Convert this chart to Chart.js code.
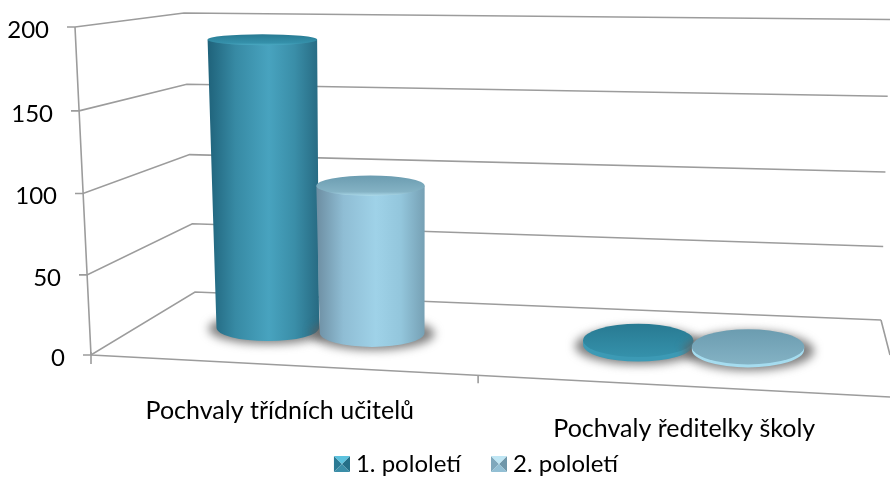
<!DOCTYPE html>
<html><head><meta charset="utf-8">
<style>html,body{margin:0;padding:0;background:#fff}#w{width:890px;height:478px}</style>
<script src="https://cdn.jsdelivr.net/npm/chart.js@4"></script></head>
<body><div id="w"><canvas id="c"></canvas></div>
<script>
const categories = ['Pochvaly třídních učitelů', 'Pochvaly ředitelky školy'];
const seriesNames = ['1. pololetí', '2. pololetí'];
const firstHalf = [192, 3];
const secondHalf = [98, 2];
const yMin = 0, yMax = 200, yStep = 50;

const LINE = '#9c9c9c';
const FONT = {family: 'Lato', size: 24};
const XFONT = {family: 'Lato', size: 25};
const skins = [
  {side:['#1f627a','#378aa4','#48a3bf','#3a8ea8','#276a82'], top:['#287a92','#3591ab','#4cabc4'], rim:'#3c9ab5', swatch:['#5cc2de','#2a7a94','#256f88','#3b8ea8']},
  {side:['#6d8ea2','#8fbdd4','#9fd2e8','#93c6dc','#76a0b4'], top:['#6b9cb0','#84b2c4','#acdaea'], rim:'#a5dcef', swatch:['#bfe6f4','#7fa8bc','#7097aa','#92bfd4']}
];

// the receding floor and walls, relative to the library's scales
const frontY = x => 355 + (x - 91) * 0.0525;
const backY  = x => 292 + (x - 91) * 0.035;
const persp  = v => v - 0.03 * v * (1 - v);
const frac   = s => v => (v - s.min) / (s.max - s.min);

function swatch(c){
  const k = document.createElement('canvas'); k.width = 24; k.height = 16;
  const g = k.getContext('2d');
  g.translate(8, 0);
  const tri = (col, a, b, d) => {g.fillStyle = col; g.beginPath(); g.moveTo(...a); g.lineTo(...b); g.lineTo(...d); g.closePath(); g.fill();};
  tri(c[1],[0,0],[8,8],[0,16]); tri(c[2],[16,0],[8,8],[16,16]); tri(c[3],[0,16],[8,8],[16,16]); tri(c[0],[0,0],[16,0],[8,8]);
  return k;
}

function rimRy(X, y){ return 5.5 + (y - 40) * 0.027 + (X - 268) * 0.008; }

function drawColumn(ctx, el, skin){
  const X = 0.934 * el.x + 48.2 + 0.00006 * ((el.x - 491) * (el.x - 491) - 40000);
  const Yb = frontY(el.x) * 0.44 + backY(el.x) * 0.56 + 2;
  const w = el.width * (0.895 + (el.x - 233) * 0.000163);
  const h = (el.base - el.y) * 0.915;
  const lean = 0.019 - (X - 266) * 0.000075;
  const Xt = X - lean * h, wt = w + 0.024 * h, Yt = Yb - h;
  const ryB = rimRy(X, Yb), ryT = rimRy(Xt, Yt);
  // soft floor shadow
  ctx.save();
  ctx.filter = 'blur(5px)';
  ctx.fillStyle = 'rgba(95,95,95,0.8)';
  ctx.beginPath(); ctx.ellipse(X + 1, Yb + 1, w / 2 + 9, ryB + 2, 0, 0, Math.PI * 2); ctx.fill();
  ctx.restore();
  // body
  const left = Math.min(X - w / 2, Xt - wt / 2), right = Math.max(X + w / 2, Xt + wt / 2);
  let g = ctx.createLinearGradient(left, 0, right, 0);
  if (h > 20) {
    [0, .25, .55, .78, 1].forEach((p, i) => g.addColorStop(p, skin.side[i]));
  } else { g = skin.rim; }
  ctx.fillStyle = g;
  ctx.beginPath();
  ctx.moveTo(Xt - wt / 2, Yt);
  ctx.lineTo(X - w / 2, Yb);
  ctx.ellipse(X, Yb, w / 2, ryB, 0, Math.PI, 0, true);
  ctx.lineTo(Xt + wt / 2, Yt);
  ctx.closePath(); ctx.fill();
  // cap
  const t = ctx.createLinearGradient(0, Yt - ryT, 0, Yt + ryT);
  t.addColorStop(0, skin.top[0]);
  if (h > 20) { t.addColorStop(0.8, skin.top[1]); t.addColorStop(1, skin.top[2]); }
  else { t.addColorStop(1, skin.top[1]); }
  ctx.fillStyle = t;
  ctx.beginPath(); ctx.ellipse(Xt, Yt, wt / 2, ryT, 0, 0, Math.PI * 2); ctx.fill();
}

const stage = {
  id: 'stage',
  afterLayout(chart){
    chart.legend.left += 30; chart.legend.right += 30; chart.legend.top -= 17;
  },
  beforeDatasetsDraw(chart){
    const {ctx, scales:{x, y}} = chart;
    const vOf = frac(y);
    ctx.save();
    ctx.strokeStyle = LINE; ctx.lineWidth = 1.6; ctx.lineJoin = 'miter';
    y.ticks.forEach(t => {
      const v = persp(vOf(t.value));
      const fy = y.getPixelForValue(yMin) - (y.getPixelForValue(yMin) - y.getPixelForValue(yMax)) * v;
      const fx = x.left - 16 * vOf(t.value);
      ctx.beginPath();
      ctx.moveTo(fx - 8, fy);
      ctx.lineTo(fx, fy);
      ctx.lineTo(195 - 11 * v, 292 - 279 * v);
      ctx.lineTo(881 + 9 * v, 320 - 300.5 * v);
      ctx.stroke();
    });
    ctx.beginPath();
    ctx.moveTo(x.left - 16, y.top); ctx.lineTo(x.left, y.bottom);
    ctx.moveTo(x.left, y.bottom); ctx.lineTo(890, frontY(890));
    ctx.moveTo(881, 320); ctx.lineTo(890, 355);
    ctx.stroke();
    // category boundary ticks on the front edge
    const W = (x.right - x.left) / categories.length;
    ctx.beginPath();
    ctx.moveTo(x.left, y.bottom - 3); ctx.lineTo(x.left, y.bottom + 9);
    const bx = x.left + W * 0.969, by = frontY(bx);
    ctx.moveTo(bx, by); ctx.lineTo(bx, by + 8);
    ctx.stroke();
    ctx.restore();
  },
  beforeDatasetDraw(){ return false; },
  afterDatasetsDraw(chart){
    chart.data.datasets.forEach((d, i) => {
      chart.getDatasetMeta(i).data.forEach(el => drawColumn(chart.ctx, el, skins[i]));
    });
  },
  beforeDraw(chart){
    const {x, y} = chart.scales;
    const vOf = frac(y);
    y.getLabelItems().forEach((it, i) => {
      const u = vOf(y.ticks[i].value);
      const py = y.getPixelForValue(yMin) - (y.getPixelForValue(yMin) - y.getPixelForValue(yMax)) * persp(u);
      it.options.translation = [x.left - 16 * u - 26, py + 3];
      it.options.textAlign = 'right';
    });
    x.getLabelItems().forEach((it, i) => {
      const px = x.getPixelForTick(i);
      it.options.translation = [px * 1.0125 - 14.6, 396 + (px - 291) * 0.045];
      it.options.textAlign = 'center';
    });
  }
};

new Chart(document.getElementById('c'), {
  type: 'bar',
  data: {
    labels: categories,
    datasets: [
      {label: seriesNames[0], data: firstHalf, backgroundColor: '#378aa4', categoryPercentage: 0.574, barPercentage: 1},
      {label: seriesNames[1], data: secondHalf, backgroundColor: '#8fbdd4', categoryPercentage: 0.574, barPercentage: 1}
    ]
  },
  options: {
    responsive: true, maintainAspectRatio: false, animation: false,
    layout: {padding: {top: 27, left: 0, right: 0, bottom: 0}},
    plugins: {
      tooltip: {enabled: false},
      legend: {
        position: 'bottom', maxHeight: 37,
        labels: {
          font: FONT, color: '#000', padding: 28, usePointStyle: true, pointStyleWidth: 12, boxWidth: 12,
          generateLabels(chart){
            return Chart.defaults.plugins.legend.labels.generateLabels(chart).map((it, i) => {
              it.pointStyle = swatch(skins[i].swatch); return it;
            });
          }
        }
      }
    },
    scales: {
      x: {
        grid: {display: false}, border: {display: false},
        ticks: {font: XFONT, color: '#000', maxRotation: 0, autoSkip: false, padding: 0},
        afterFit(s){ s.height = 86; }
      },
      y: {
        min: yMin, max: yMax,
        grid: {display: false}, border: {display: false},
        ticks: {font: FONT, color: '#000', stepSize: yStep, padding: 0},
        afterFit(s){ s.width = 91; }
      }
    }
  },
  plugins: [stage]
});
</script></body></html>
